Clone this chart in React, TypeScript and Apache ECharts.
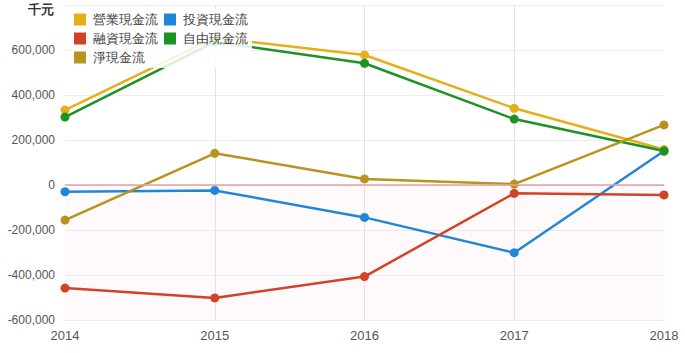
import React, { useEffect, useRef } from "react";
import * as echarts from "echarts";

const years = ["2014", "2015", "2016", "2017", "2018"];
const operating = [333000, 655000, 578000, 341000, 158000];
const investing = [-30000, -24000, -144000, -301000, 151000];
const financing = [-458000, -502000, -407000, -37000, -44000];
const freeCash = [302000, 636000, 541000, 293000, 151000];
const netCash = [-156000, 141000, 27000, 4000, 267000];
const unitLabel = "千元";

const colors = {
  operating: "#e5b017",
  investing: "#2186da",
  financing: "#d24326",
  freeCash: "#1c9322",
  netCash: "#b8941c",
};

export default function App() {
  const ref = useRef<HTMLDivElement>(null);
  useEffect(() => {
    const chart = echarts.init(ref.current!, null, { renderer: "svg" });
    const mk = (name: string, data: number[], color: string, extra: any = {}) => ({
      name,
      type: "line",
      data,
      symbol: "circle",
      symbolSize: 9,
      lineStyle: { width: 2.5, color },
      itemStyle: { color },
      ...extra,
    });
    chart.setOption({
      animation: false,
      backgroundColor: "#fff",
      textStyle: { fontFamily: "Liberation Sans, Arial, sans-serif" },
      grid: { left: 65, right: 21, top: 5, bottom: 33 },
      legend: {
        data: ["營業現金流", "投資現金流", "融資現金流", "自由現金流", "淨現金流"],
        left: 70,
        top: 9,
        width: 190,
        itemGap: 6,
        itemWidth: 12,
        itemHeight: 12,
        icon: "rect",
        padding: [4, 4, 4, 4],
        backgroundColor: "rgba(255,255,255,0.85)",
        textStyle: { fontSize: 13, color: "#444", padding: [0, 0, 0, 2] },
      },
      graphic: [
        {
          type: "text",
          right: 685 - 54,
          top: 3,
          style: { text: unitLabel, fontSize: 13, fontWeight: "bold", fill: "#333" },
        },
      ],
      xAxis: {
        type: "category",
        data: years,
        boundaryGap: false,
        axisLine: { lineStyle: { color: "#dcdcdc" } },
        axisTick: { show: false },
        axisLabel: { color: "#555", fontSize: 13, margin: 9 },
        splitLine: {
          show: true,
          interval: (i: number) => i > 0 && i < years.length - 1,
          lineStyle: { color: "#e4e4e4" },
        },
      },
      yAxis: {
        type: "value",
        min: -600000,
        max: 800000,
        interval: 200000,
        axisLine: { show: false },
        axisTick: { show: false },
        axisLabel: {
          color: "#555",
          fontSize: 12,
          margin: 10,
          formatter: (v: number) => (v === 800000 ? "" : v.toLocaleString("en-US")),
        },
        splitLine: { lineStyle: { color: "#ececec" } },
      },
      series: [
        mk("營業現金流", operating, colors.operating, {
          markArea: {
            silent: true,
            itemStyle: { color: "rgba(250,215,225,0.12)" },
            data: [[{ yAxis: 0 }, { yAxis: -600000 }]],
          },
          markLine: {
            silent: true,
            symbol: "none",
            label: { show: false },
            lineStyle: { color: "#e8a0aa", width: 1.5, type: "solid" },
            data: [{ yAxis: 0 }],
          },
        }),
        mk("投資現金流", investing, colors.investing),
        mk("融資現金流", financing, colors.financing),
        mk("自由現金流", freeCash, colors.freeCash),
        mk("淨現金流", netCash, colors.netCash),
      ],
    });
    return () => chart.dispose();
  }, []);
  return (
    <div
      ref={ref}
      style={{ position: "absolute", left: 0, top: 0, width: 685, height: 353 }}
    />
  );
}
